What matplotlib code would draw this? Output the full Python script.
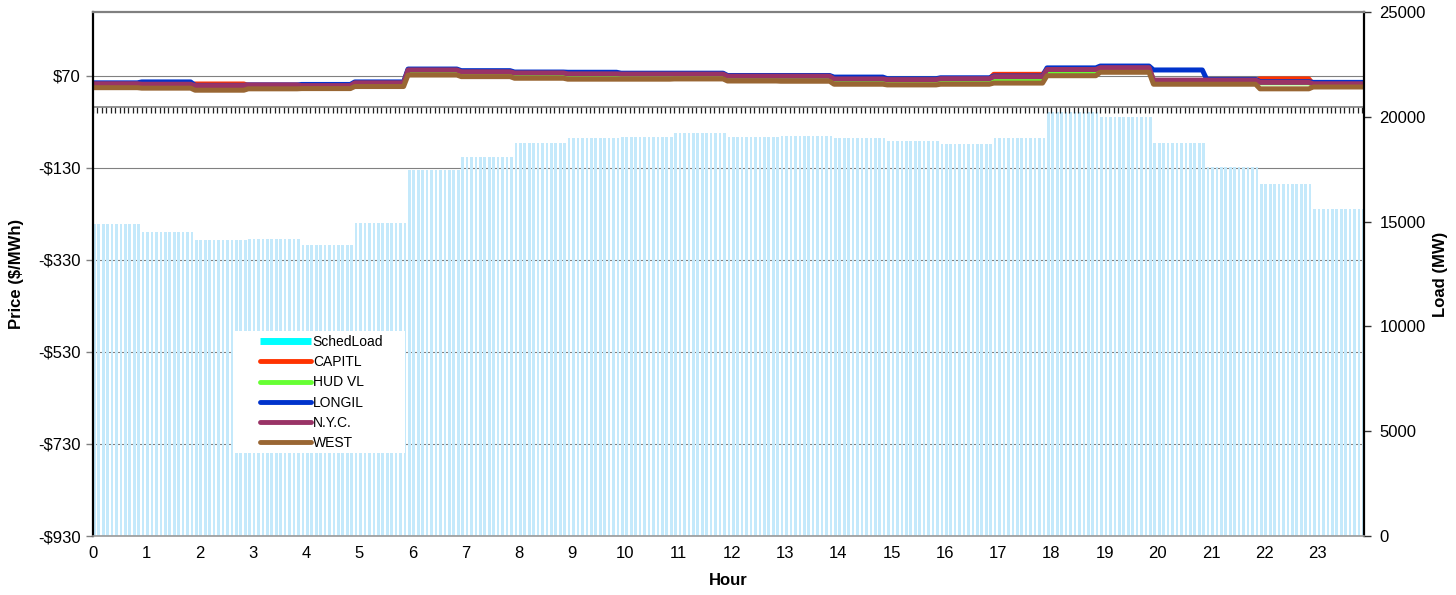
"""
NYISO real-time zonal prices vs scheduled load, one day at 5-minute resolution
"""

import numpy as np
import matplotlib.pyplot as plt
from matplotlib.lines import Line2D
from matplotlib.patches import Rectangle

plt.rcParams['font.family'] = ['Liberation Sans', 'DejaVu Sans']

# hourly values (each hour holds 12 five-minute intervals)
hours = np.arange(24)
sched_load = [14880, 14500, 14120, 14150, 13880, 14930, 17460, 18080, 18750, 18990,
              19040, 19230, 19040, 19080, 18990, 18850, 18700, 18990, 20230, 19990,
              18750, 17600, 16790, 15600]
capitl = [52, 51, 52.5, 49.5, 48, 54, 82, 78, 75.5, 73.5, 73, 73,
          68.5, 68.5, 62.5, 61, 63, 73.5, 83, 87, 60, 60, 63.5, 52]
hud_vl = [51.5, 50.5, 48, 49, 48, 53.5, 81.5, 77.5, 75, 73, 72.5, 72.5,
          68, 68, 62, 60.5, 62.5, 61.5, 78, 86.5, 59, 59.5, 55, 51.5]
longil = [55, 57, 49.5, 50.5, 51.5, 57, 85, 81.5, 78.5, 78, 76, 76,
          71, 71, 67.5, 64, 66, 70, 87.5, 91.5, 83, 62.5, 57.5, 56]
nyc = [53, 52, 49, 50.5, 49, 55, 83, 79, 76.5, 74.5, 74, 74,
       69.5, 69.5, 63.5, 62, 64, 68.5, 84, 88, 61, 61, 56, 53]
west = [44.5, 43.5, 39, 42, 42.5, 47, 72, 68.5, 65, 63, 63, 63.5,
        59, 58.5, 52, 50.5, 52, 54.5, 70.5, 78, 52, 52, 42, 46]

series = [('CAPITL', capitl, '#FF3300'),
          ('HUD VL', hud_vl, '#66FF33'),
          ('LONGIL', longil, '#0033CC'),
          ('N.Y.C.', nyc, '#993366'),
          ('WEST', west, '#996633')]

price_ticks = [70, -130, -330, -530, -730, -930]
load_ticks = [0, 5000, 10000, 15000, 20000, 25000]

# 5-minute time axis (interval-ending, so each hour starts one step early)
step = 1 / 12
t = np.arange(24 * 12) * step - step


def five_min(vals):
    return np.repeat(np.asarray(vals, dtype=float), 12)


W, H = 1456, 595
fig = plt.figure(figsize=(W / 100, H / 100), dpi=100)
rect = [93 / W, (H - 536) / H, 1271 / W, 524 / H]

ax = fig.add_axes(rect)          # price scale + gridlines (bottom layer)
ax_load = ax.twinx()             # load bars
ax_price = ax.twinx()            # price lines (top layer)

xlim = (0, 23.87)
price_lim = (-930, 209)
tick_fs = 12
label_fs = 12

ax.set_xlim(*xlim)
ax.set_ylim(*price_lim)
ax.set_yticks(price_ticks)
ax.set_yticklabels([f'-${-v}' if v < 0 else f'${v}' for v in price_ticks])
ax.yaxis.grid(True, color='#808080', lw=0.8)
ax.set_axisbelow(True)
ax.set_xticks(hours)
ax.tick_params(axis='x', length=0, pad=7, labelsize=tick_fs)
ax.tick_params(axis='y', length=5, width=1, color='#808080', labelsize=tick_fs, pad=4)
ax.set_ylabel('Price ($/MWh)', fontsize=label_fs, fontweight='bold', labelpad=10)
ax.set_xlabel('Hour', fontsize=label_fs, fontweight='bold', labelpad=9)
for s in ax.spines.values():
    s.set_visible(False)

ax_load.bar(t, five_min(sched_load), width=0.6 * step, align='edge',
            color='#C4E9FB', linewidth=0)
ax_load.set_ylim(0, 25000)
ax_load.set_yticks(load_ticks)
ax_load.tick_params(axis='y', length=5, width=1, color='#333333', labelsize=tick_fs, pad=6)
ax_load.set_ylabel('Load (MW)', fontsize=label_fs, fontweight='bold', labelpad=5)
for s in ax_load.spines.values():
    s.set_visible(False)

for name, vals, col in series:
    ax_price.plot(t, five_min(vals), color=col, lw=3.6, solid_joinstyle='round')
ax_price.set_ylim(*price_lim)
ax_price.set_xlim(*xlim)
ax_price.yaxis.set_visible(False)
ax_price.spines['left'].set_color('black')
ax_price.spines['left'].set_linewidth(1.6)
ax_price.spines['right'].set_color('black')
ax_price.spines['right'].set_linewidth(1.6)
ax_price.spines['top'].set_color('#808080')
ax_price.spines['top'].set_linewidth(1.6)
ax_price.spines['bottom'].set_color('#999999')
ax_price.spines['bottom'].set_linewidth(1.2)

# row of 5-minute ticks separating the price band from the load area
tick_row = ax_price.secondary_xaxis((536 - 107) / 524)
tick_row.set_xticks(np.arange(0, 24, step))
tick_row.tick_params(axis='x', direction='in', length=4, width=0.9,
                     color='#222222', labeltop=False, labelbottom=False)
tick_row.spines['top'].set_color('#808080')
tick_row.spines['top'].set_linewidth(1.2)

# legend
ax_price.add_patch(Rectangle((140 / 1271, (536 - 453) / 524), 172 / 1271, 122 / 524,
                             transform=ax_price.transAxes, facecolor='white',
                             edgecolor='none', zorder=4))
handles = [Line2D([], [], color='#00FFFF', lw=5, solid_capstyle='butt')]
handles += [Line2D([], [], color=c, lw=3.5, solid_capstyle='round') for _, _, c in series]
labels = ['SchedLoad'] + [n for n, _, _ in series]
leg = ax_price.legend(handles, labels, loc='upper left',
                      bbox_to_anchor=(167 / 1271, (536 - 335) / 524),
                      frameon=False, fontsize=10, handlelength=3.7,
                      handletextpad=0.1, labelspacing=0.45, borderpad=0,
                      borderaxespad=0)
leg.set_zorder(5)

fig.savefig('out.png', dpi=100)
